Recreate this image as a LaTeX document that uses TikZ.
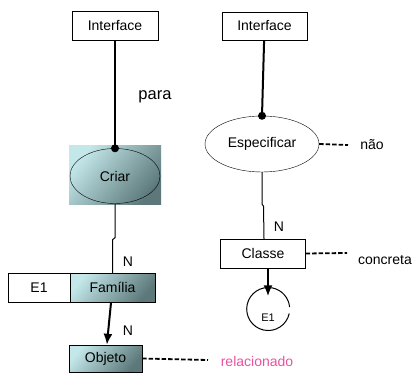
\documentclass[tikz,border=0pt]{standalone}
\usepackage{fontspec}
\setmainfont{Liberation Sans}
\usetikzlibrary{shapes.geometric,arrows.meta}
\definecolor{shadelight}{RGB}{196,232,234}
\definecolor{shadedark}{RGB}{92,120,122}
\definecolor{relpink}{RGB}{232,82,160}
\tikzset{
  box/.style={draw,thin,fill=white,minimum width=86pt,minimum height=29pt,inner sep=0pt},
  shadebox/.style={draw,thin,top color=shadelight,bottom color=shadedark,shading angle=50,
    minimum width=85pt,minimum height=29pt,inner sep=0pt},
  link/.style={line width=1pt},
  strong/.style={line width=2pt},
  dotted link/.style={line width=1.8pt,dash pattern=on 4.5pt off 2pt}
}
\begin{document}
\begin{tikzpicture}[x=1pt,y=-1pt,font=\fontsize{14}{16}\selectfont]
  \useasboundingbox (0,0) rectangle (419,379);
  % left side
  \draw
    (115,26) node[box] (ifaceL) {Interface}
    (155,97) node[font=\fontsize{16.5}{18}\selectfont] (para) {para}
    (115,175) node[shadebox,draw=none,minimum width=92pt,minimum height=58pt] (criarbg) {}
    (115,176) node[draw,thin,ellipse,minimum width=90pt,minimum height=55pt] (criar) {Criar}
    (39,287.5) node[box,minimum width=62pt] (e1box) {E1}
    (112.5,287.5) node[shadebox] (familia) {Família}
    (105.5,358.5) node[shadebox,minimum width=73pt,minimum height=27pt] (objeto) {Objeto}
    (128,262) node (nA) {N}
    (128,331) node (nB) {N}
    (257,361) node[text=relpink] (relac) {relacionado};
  \coordinate (relEnd) at (208,360);
  % right side
  \draw
    (264.5,26) node[box,minimum width=85pt,minimum height=28pt] (ifaceR) {Interface}
    (262,144) node[draw,thin,ellipse,fill=white,minimum width=114pt,minimum height=56pt] (espec) {Especificar}
    (372,145) node (nao) {não}
    (263,253.5) node[box,minimum width=85pt] (classe) {Classe}
    (279,227) node (nC) {N}
    (385,260) node (conc) {concreta}
    (268,318) node[circle,minimum size=43pt,inner sep=0pt,font=\fontsize{11}{12}\selectfont] (e1c) {E1};
  \coordinate (naoEnd) at (348,145);
  \coordinate (concEnd) at (347,253);
  \begin{scope}[link]
    \draw[strong] (ifaceL) -- (criar.north);
    \fill (criar.north) circle (4);
    \draw (criar.south) -- ++(0,34) -- ++(-2.5,2) -- (familia.north -| 112.5,0);
    \draw[strong,-{Latex[length=11pt,width=9pt]}] (familia) -- (objeto);
    \draw[dotted link] (objeto.east) -- (relEnd);
    \draw[strong] (ifaceR) -- (espec.north);
    \fill (espec.north) circle (4);
    \draw[dotted link] (espec.east) -- (naoEnd);
    \draw (espec.south) -- ++(0,32) -- ++(1.5,2) -- (classe.north -| 264,0);
    \draw[dotted link] (classe.east) -- (concEnd);
    \draw[strong,-{Latex[length=11pt,width=9pt]}] (e1c |- classe.south) -- (e1c.north);
    \draw (e1c.12) arc[start angle=12,end angle=355,radius=21.5];
  \end{scope}
\end{tikzpicture}
\end{document}
